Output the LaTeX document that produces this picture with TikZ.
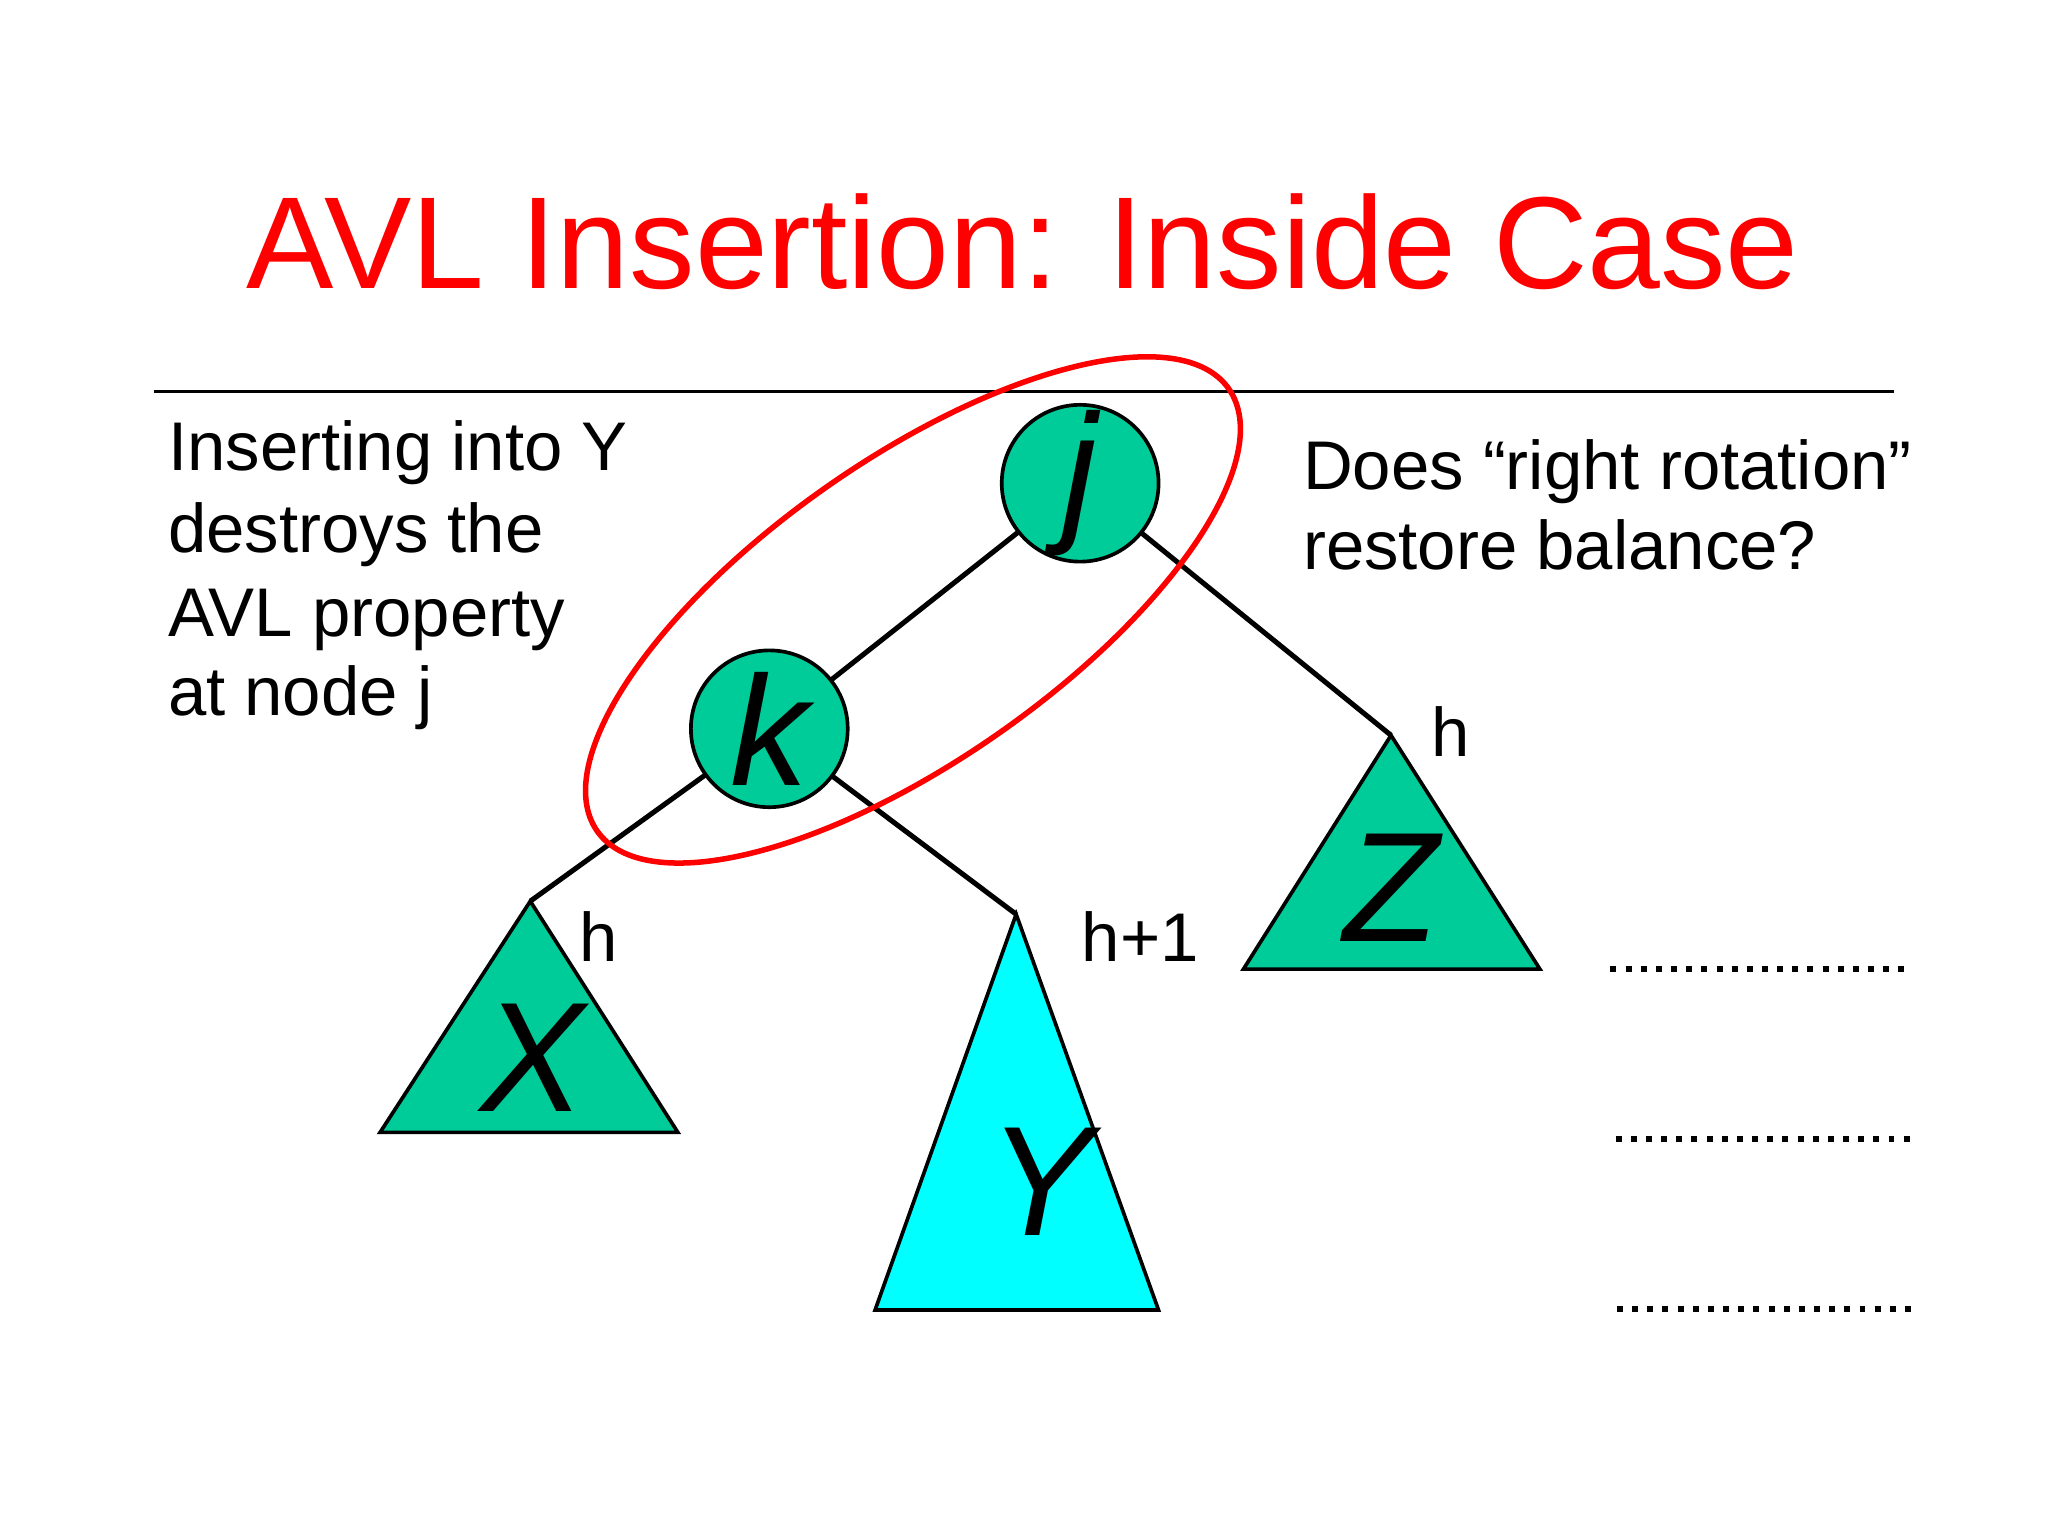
\documentclass[tikz,border=0pt]{standalone}
\usepackage{fontspec}
\setmainfont{Liberation Sans}
\begin{document}
\begin{tikzpicture}[x=0.01cm,y=0.01cm,
  nodec/.style={circle,draw=black,fill=avlgreen,minimum size=1.2cm,inner sep=0pt,line width=0.8pt},
  edge/.style={line width=1.1pt},
  tri/.style={draw=black,line width=0.8pt},
  txt/.style={font=\fontsize{15}{18}\selectfont,anchor=base west,inner sep=0pt},
  big/.style={font=\fontsize{34}{34}\selectfont\itshape,inner sep=0pt},
  dots/.style={dotted,line width=1.3pt}]
\definecolor{avlgreen}{HTML}{00CC99}
\definecolor{avlcyan}{HTML}{00FFFF}
\useasboundingbox (0,0) rectangle (1568,1176);
\fill[white] (0,0) rectangle (1568,1176);
\node[text=red,font=\fontsize{28.5}{30}\selectfont] (title) at (783,991) {AVL Insertion: Inside Case};
\coordinate (l1) at (118,876); \coordinate (l2) at (1450,876);
\draw[line width=0.6pt] (l1) -- (l2);
\node[txt] (t1) at (128,816) {Inserting into Y};
\node[txt] (t2) at (128,753) {destroys the};
\node[txt] (t3) at (128,689) {AVL property};
\node[txt] (t4) at (128,628) {at node j};
\node[txt] (r1) at (997,801) {Does “right rotation”};
\node[txt] (r2) at (997,740) {restore balance?};
% triangles
\coordinate (za) at (1065,613); \coordinate (xa) at (406,486); \coordinate (ya) at (778,476);
\draw[tri,fill=avlgreen] (za) -- (1179,434) -- (952,434) -- cycle;
\draw[tri,fill=avlgreen] (xa) -- (519,309) -- (291,309) -- cycle;
\draw[tri,fill=avlcyan] (ya) -- (887,173) -- (670,173) -- cycle;
\node[big] (Z) at (1065,496) {Z};
\node[big] (X) at (408,366) {X};
\node[big] (Y) at (797,271) {Y};
% nodes
\coordinate (jc) at (827,806); \coordinate (kc) at (589,618);
\draw[edge] (jc) -- (kc); \draw[edge] (jc) -- (za);
\draw[edge] (kc) -- (xa); \draw[edge] (kc) -- (ya);
\node[nodec] (j) at (jc) {};
\node[nodec] (k) at (kc) {};
\node[big] at (j) {j};
\node[big] at (k) {k};
\node[font=\fontsize{15}{18}\selectfont] (h1) at (458,459) {h};
\node[font=\fontsize{15}{18}\selectfont] (h2) at (873,459) {h+1};
\node[font=\fontsize{15}{18}\selectfont] (h3) at (1111,616) {h};
\draw[red,line width=1.2pt,rotate around={35:(699,709)}] (699,709) ellipse [x radius=2.95cm,y radius=1.15cm];
\coordinate (d1) at (1233,434); \coordinate (d2) at (1460,434);
\coordinate (d3) at (1237,304); \coordinate (d4) at (1463,304);
\coordinate (d5) at (1238,174); \coordinate (d6) at (1465,174);
\draw[dots] (d1) -- (d2); \draw[dots] (d3) -- (d4); \draw[dots] (d5) -- (d6);
\end{tikzpicture}
\end{document}
